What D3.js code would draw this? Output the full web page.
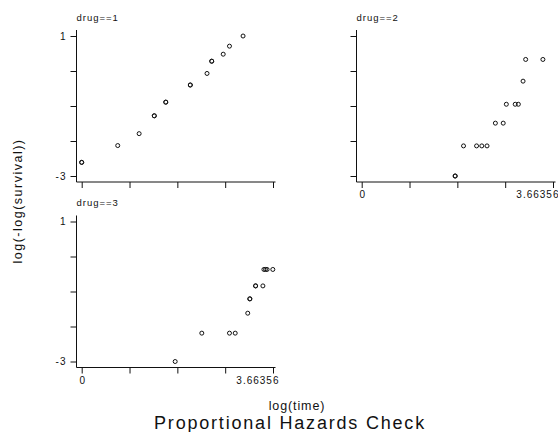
<!DOCTYPE html>
<html>
<head>
<meta charset="utf-8">
<script src="https://cdn.jsdelivr.net/npm/d3@7"></script>
<style>
  html, body { margin: 0; padding: 0; background: #fff; }
  svg { display: block; font-family: "Liberation Sans", Arial, Helvetica, sans-serif; }
</style>
</head>
<body>
<svg id="chart" width="558" height="432"></svg>
<script>
// Panel titles, ticks and labels
const panelTitles = ["drug==1", "drug==2", "drug==3"];
const xTicks = [0, 0.91589, 1.83178, 2.74767, 3.66356];
const xTickLabels = ["0", "", "", "", "3.66356"];
const yTicks = [1, 0, -1, -2, -3];
const yTickLabels = ["1", "", "", "", "-3"];

// log(time) and log(-log(survival)) per drug group (tied times listed once per subject)
const drug1LogTime = [0, 0, 0.69, 1.10, 1.39, 1.39, 1.61, 1.61, 2.08, 2.08, 2.40, 2.49, 2.49, 2.71, 2.83, 3.09];
const drug1Value   = [-2.61, -2.61, -2.13, -1.79, -1.28, -1.28, -0.89, -0.89, -0.40, -0.40, -0.07, 0.28, 0.28, 0.48, 0.71, 1.00];

const drug2LogTime = [1.79, 1.79, 1.95, 2.20, 2.30, 2.40, 2.56, 2.71, 2.77, 2.94, 3.00, 3.09, 3.14, 3.47];
const drug2Value   = [-3.00, -3.00, -2.14, -2.14, -2.14, -2.14, -1.49, -1.49, -0.95, -0.95, -0.95, -0.29, 0.33, 0.33];

const drug3LogTime = [1.79, 2.30, 2.83, 2.94, 3.18, 3.22, 3.22, 3.33, 3.33, 3.47, 3.49, 3.52, 3.55, 3.66];
const drug3Value   = [-3.00, -2.19, -2.19, -2.19, -1.62, -1.21, -1.21, -0.84, -0.84, -0.84, -0.37, -0.37, -0.37, -0.37];

const groups = [
  { title: panelTitles[0], t: drug1LogTime, v: drug1Value, ax: 76.5, top: 36, showX: false, showY: true },
  { title: panelTitles[1], t: drug2LogTime, v: drug2Value, ax: 356.5, top: 36, showX: true, showY: false },
  { title: panelTitles[2], t: drug3LogTime, v: drug3Value, ax: 76.5, top: 221.5, showX: true, showY: true }
];

const svg = d3.select("#chart");
const ink = "#111";

groups.forEach(g => {
  const x = d3.scaleLinear().domain([0, 3.66356]).range([g.ax + 5.2, g.ax + 196.5]);
  const y = d3.scaleLinear().domain([1, -3]).range([g.top, g.top + 140]);
  const baseY = g.top + 146;
  const p = svg.append("g");

  // axis lines
  p.append("line").attr("x1", g.ax).attr("x2", g.ax)
    .attr("y1", g.top - 6).attr("y2", baseY)
    .attr("stroke", ink).attr("stroke-width", 1);
  p.append("line").attr("x1", g.ax).attr("x2", x(3.66356) + 2.5)
    .attr("y1", baseY).attr("y2", baseY)
    .attr("stroke", ink).attr("stroke-width", 1);

  // y ticks
  const yAxis = d3.axisLeft(y).tickValues(yTicks).tickSize(6).tickSizeOuter(0)
    .tickFormat((d, i) => g.showY ? yTickLabels[i] : "");
  const ya = p.append("g").attr("transform", `translate(${g.ax},0)`).call(yAxis);
  ya.select(".domain").remove();
  ya.selectAll(".tick line").attr("stroke", ink);
  ya.selectAll(".tick text").attr("fill", ink).attr("font-size", 10)
    .attr("letter-spacing", 1).attr("x", -10)
    .attr("font-family", "'Liberation Sans', Arial, sans-serif");

  // x ticks
  const xAxis = d3.axisBottom(x).tickValues(xTicks).tickSize(6).tickSizeOuter(0)
    .tickFormat((d, i) => g.showX ? xTickLabels[i] : "");
  const xa = p.append("g").attr("transform", `translate(0,${baseY})`).call(xAxis);
  xa.select(".domain").remove();
  xa.selectAll(".tick line").attr("stroke", ink);
  xa.selectAll(".tick text").attr("fill", ink).attr("font-size", 10)
    .attr("letter-spacing", 1).attr("y", 9)
    .attr("font-family", "'Liberation Sans', Arial, sans-serif")
    .attr("text-anchor", (d, i) => i === xTicks.length - 1 ? "end" : "middle")
    .attr("dx", (d, i) => i === xTicks.length - 1 ? 6 : 0.5);

  // panel title
  p.append("text").attr("x", g.ax).attr("y", g.top - 15.5)
    .attr("font-size", 9.5).attr("letter-spacing", 1).attr("fill", ink)
    .text(g.title);

  // markers
  p.selectAll("circle.pt").data(g.t.map((t, i) => [t, g.v[i]])).join("circle")
    .attr("class", "pt")
    .attr("cx", d => x(d[0])).attr("cy", d => y(d[1])).attr("r", 2)
    .attr("fill", "none").attr("stroke", ink).attr("stroke-width", 1);
});

// shared axis titles
svg.append("text").attr("transform", "translate(21.5,201) rotate(-90)")
  .attr("text-anchor", "middle").attr("font-size", 12.5).attr("letter-spacing", 1.5)
  .attr("fill", ink).text("log(-log(survival))");
svg.append("text").attr("x", 297).attr("y", 410)
  .attr("text-anchor", "middle").attr("font-size", 12.5).attr("letter-spacing", 0.9)
  .attr("fill", ink).text("log(time)");
svg.append("text").attr("x", 290).attr("y", 429)
  .attr("text-anchor", "middle").attr("font-size", 18).attr("letter-spacing", 1.8)
  .attr("fill", ink).text("Proportional Hazards Check");
</script>
</body>
</html>
